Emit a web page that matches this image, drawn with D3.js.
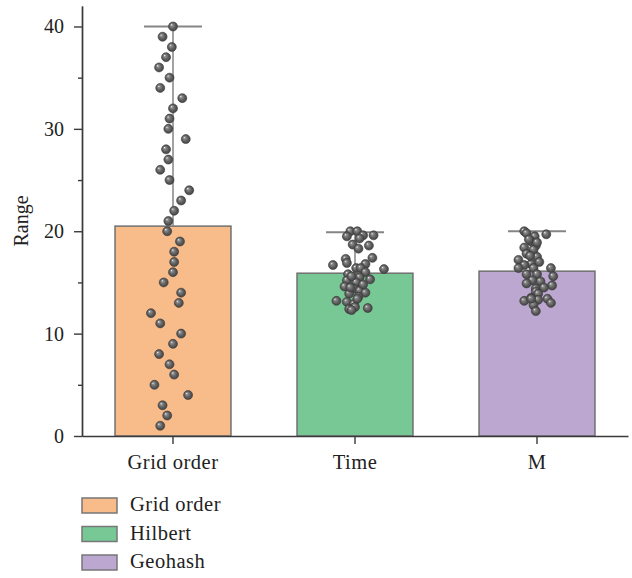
<!DOCTYPE html>
<html>
<head>
<meta charset="utf-8">
<script src="https://cdn.jsdelivr.net/npm/d3@7"></script>
<style>
  body { margin: 0; background: #fff; }
  svg { display: block; }
  svg text { font-family: "Liberation Serif", "Times New Roman", serif; }
</style>
</head>
<body>
<div id="chart"></div>
<script>
var categories = ['Grid order', 'Time', 'M'];
var legendLabels = ['Grid order', 'Hilbert', 'Geohash'];
var barMeans = [20.5, 15.9, 16.1];
var barMax = [40, 19.9, 20.0];
var yTicks = [0, 10, 20, 30, 40];
var yMinorTicks = [5, 15, 25, 35];

// raw points per group, jitter is a fraction of the bar width
var gridValues = [1, 2, 3, 4, 5, 6, 7, 8, 9, 10, 11, 12, 13, 14, 15, 16, 17, 18, 19, 20,
  21, 22, 23, 24, 25, 26, 27, 28, 29, 30, 31, 32, 33, 34, 35, 36, 37, 38, 39, 40];
var gridJitter = [-0.11, -0.05, -0.09, 0.13, -0.16, 0.01, -0.03, -0.12, 0, 0.07,
  -0.11, -0.19, 0.05, 0.07, -0.08, 0, 0.01, 0.01, 0.06, -0.05,
  -0.04, 0.01, 0.07, 0.14, -0.03, -0.11, -0.04, -0.06, 0.11, -0.04,
  -0.03, 0, 0.08, -0.11, -0.03, -0.12, -0.06, -0.01, -0.09, 0];

var timeValues = [20.0, 20.0, 19.6, 19.6, 19.5, 19.3, 18.7, 18.6, 18.3, 17.3,
  17.4, 16.7, 16.9, 16.8, 16.3, 16.4, 16.4, 15.8, 16.0, 15.5,
  15.3, 15.2, 15.0, 14.6, 14.4, 14.2, 14.0, 13.9, 13.2, 13.1,
  12.9, 12.4, 12.5, 12.6, 13.6, 14.8, 12.3, 15.6, 13.4, 14.5];
var timeJitter = [-0.04, 0.02, 0.07, 0.16, -0.07, 0.04, -0.02, 0.12, 0.03, -0.08,
  0.15, -0.19, -0.07, 0.09, 0.25, 0.01, 0.05, -0.06, 0.09, 0.04,
  0.13, -0.07, 0.01, -0.09, -0.01, 0.04, 0.09, -0.05, -0.16, -0.07,
  -0.01, -0.05, 0.11, 0, 0.03, 0.07, -0.03, -0.03, 0.02, -0.04];

var mValues = [20.0, 19.8, 19.7, 19.5, 19.0, 18.6, 18.4, 18.2, 17.8, 17.5,
  17.2, 16.8, 16.7, 16.4, 16.4, 16.4, 15.8, 15.8, 15.6, 15.2,
  14.9, 15.1, 14.7, 14.4, 14.5, 14.1, 13.9, 13.5, 13.4, 13.2,
  13.0, 13.3, 12.8, 12.2, 13.4, 19.2, 18.9, 17.6, 17.0];
var mJitter = [-0.11, -0.09, 0.08, -0.02, -0.05, -0.01, -0.11, -0.03, -0.09, 0,
  -0.16, -0.05, -0.11, -0.16, -0.03, 0.12, -0.09, 0, 0.14, -0.04,
  -0.09, 0.03, 0.13, -0.01, 0.06, -0.01, 0.01, -0.05, 0.09, -0.11,
  0.12, 0.01, -0.03, -0.01, -0.05, -0.07, 0, -0.06, 0.02];

var barColors = ['#f8bb8a', '#78c896', '#bba7d0'];

var allValues = [gridValues, timeValues, mValues];
var allJitter = [gridJitter, timeJitter, mJitter];

var W = 632, H = 578;
var margin = { top: 6, right: 4, bottom: 142, left: 82 };
var width = W - margin.left - margin.right;
var height = H - margin.top - margin.bottom;
var serif = '"Liberation Serif", "Times New Roman", serif';

var svg = d3.select('#chart')
  .append('svg')
  .attr('width', W)
  .attr('height', H);

// sphere look for the points
var grad = svg.append('defs').append('radialGradient')
  .attr('id', 'ball')
  .attr('cx', '50%').attr('cy', '50%').attr('r', '55%')
  .attr('fx', '32%').attr('fy', '30%');
grad.append('stop').attr('offset', '0%').attr('stop-color', '#f2f2f2');
grad.append('stop').attr('offset', '22%').attr('stop-color', '#8c8c8c');
grad.append('stop').attr('offset', '60%').attr('stop-color', '#5e5e5e');
grad.append('stop').attr('offset', '100%').attr('stop-color', '#3e3e3e');

var g = svg.append('g')
  .attr('transform', 'translate(' + margin.left + ',' + margin.top + ')');

var x = d3.scaleBand()
  .domain(categories)
  .range([0, width])
  .paddingInner(0.363)
  .paddingOuter(0.1815);

var y = d3.scaleLinear()
  .domain([0, 42])
  .range([height, 0]);

var bw = x.bandwidth();

// bars
g.selectAll('.bar')
  .data(categories)
  .enter()
  .append('rect')
  .attr('class', 'bar')
  .attr('x', function (d) { return x(d); })
  .attr('y', function (d, i) { return y(barMeans[i]); })
  .attr('width', bw)
  .attr('height', function (d, i) { return y(0) - y(barMeans[i]); })
  .attr('fill', function (d, i) { return barColors[i]; })
  .attr('stroke', '#707070')
  .attr('stroke-width', 1.5);

// error bars (upper only)
var err = g.selectAll('.err')
  .data(categories)
  .enter()
  .append('g')
  .attr('class', 'err')
  .attr('stroke', '#858585');

err.append('line')
  .attr('x1', function (d) { return x(d) + bw / 2; })
  .attr('x2', function (d) { return x(d) + bw / 2; })
  .attr('y1', function (d, i) { return y(barMeans[i]); })
  .attr('y2', function (d, i) { return y(barMax[i]); })
  .attr('stroke-width', 1.5);

err.append('line')
  .attr('x1', function (d) { return x(d) + bw / 4; })
  .attr('x2', function (d) { return x(d) + bw * 3 / 4; })
  .attr('y1', function (d, i) { return y(barMax[i]); })
  .attr('y2', function (d, i) { return y(barMax[i]); })
  .attr('stroke-width', 2);

// points
var points = [];
categories.forEach(function (c, i) {
  allValues[i].forEach(function (v, j) {
    points.push({ cat: c, value: v, jitter: allJitter[i][j] });
  });
});

g.selectAll('.dot')
  .data(points)
  .enter()
  .append('circle')
  .attr('class', 'dot')
  .attr('cx', function (d) { return x(d.cat) + bw / 2 + d.jitter * bw; })
  .attr('cy', function (d) { return y(d.value); })
  .attr('r', 4.5)
  .attr('fill', 'url(#ball)')
  .attr('stroke', '#3a3a3a')
  .attr('stroke-width', 0.6);

// axes
var yAxis = g.append('g')
  .call(d3.axisLeft(y).tickValues(yTicks).tickSize(8).tickSizeOuter(0).tickPadding(10));
g.append('g')
  .call(d3.axisLeft(y).tickValues(yMinorTicks).tickSize(4).tickSizeOuter(0).tickFormat(''));

var xAxis = g.append('g')
  .attr('transform', 'translate(0,' + height + ')')
  .call(d3.axisBottom(x).tickSize(8).tickSizeOuter(0).tickPadding(10));

g.selectAll('.domain, .tick line')
  .attr('stroke', '#3a3a3a')
  .attr('stroke-width', 1.4);

yAxis.attr('font-family', null).attr('font-size', null);
xAxis.attr('font-family', null).attr('font-size', null);

yAxis.selectAll('text')
  .style('font-family', serif)
  .style('font-size', '20px')
  .attr('fill', '#222');

xAxis.selectAll('text')
  .style('font-family', serif)
  .style('font-size', '20.5px')
  .attr('letter-spacing', 0.5)
  .attr('fill', '#222');

g.append('text')
  .attr('transform', 'translate(' + (-54) + ',' + (height / 2) + ') rotate(-90)')
  .attr('text-anchor', 'middle')
  .style('font-family', serif)
  .style('font-size', '20px')
  .attr('fill', '#222')
  .text('Range');

// legend
var legend = svg.append('g')
  .attr('transform', 'translate(82,498)');

var item = legend.selectAll('.item')
  .data(legendLabels)
  .enter()
  .append('g')
  .attr('class', 'item')
  .attr('transform', function (d, i) { return 'translate(0,' + (i * 28.5) + ')'; });

item.append('rect')
  .attr('width', 35)
  .attr('height', 15)
  .attr('fill', function (d, i) { return barColors[i]; })
  .attr('stroke', '#777')
  .attr('stroke-width', 1.5);

item.append('text')
  .attr('x', 48)
  .attr('y', 13)
  .style('font-family', serif)
  .style('font-size', '20.5px')
  .attr('letter-spacing', 0.5)
  .attr('fill', '#222')
  .text(function (d) { return d; });
</script>
</body>
</html>
